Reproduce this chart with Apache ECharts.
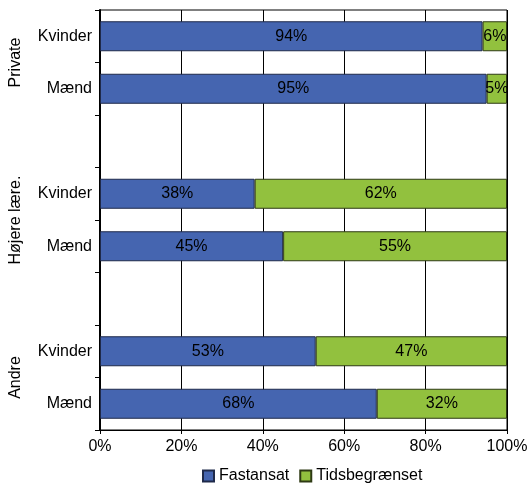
<!DOCTYPE html>
<html>
<head>
<meta charset="utf-8">
<script src="https://cdn.jsdelivr.net/npm/echarts@6/dist/echarts.min.js"></script>
<style>
html,body{margin:0;padding:0;background:#fff;}
#container{width:527px;height:487px;}
</style>
</head>
<body>
<div id="container"></div>
<script>
// rows from bottom to top, '' = gap between groups
var categories = ['Mænd', 'Kvinder', '', 'Mænd', 'Kvinder', '', 'Mænd', 'Kvinder'];
var fastansat = [68, 53, null, 45, 38, null, 95, 94];
var tidsbegraenset = [32, 47, null, 55, 62, null, 5, 6];
var groupNames = {1: 'Andre', 4: 'Højere lære.', 7: 'Private'};
var xTicks = [0, 20, 40, 60, 80, 100];

var chart = echarts.init(document.getElementById('container'));
var font = 'Liberation Sans, Arial, sans-serif';

var option = {
    animation: false,
    textStyle: {fontFamily: font},
    grid: {left: 100, right: 20, top: 10, bottom: 57, containLabel: false, outerBoundsMode: 'none'},
    legend: {
        data: ['Fastansat', 'Tidsbegrænset'],
        top: 463,
        left: 197,
        itemWidth: 11,
        itemHeight: 11,
        itemGap: 10,
        icon: 'rect',
        textStyle: {fontSize: 16, color: '#000', fontFamily: font}
    },
    xAxis: {
        type: 'value',
        min: 0,
        max: 100,
        interval: 20,
        axisLine: {show: true, lineStyle: {color: '#000'}},
        axisTick: {show: true, length: 4, lineStyle: {color: '#000'}},
        axisLabel: {
            fontSize: 16, color: '#000', margin: 9,
            formatter: function (v) { return xTicks.indexOf(v) >= 0 ? v + '%' : ''; }
        },
        splitLine: {show: true, lineStyle: {color: '#000', width: 1}}
    },
    yAxis: [{
        type: 'category',
        data: categories,
        axisLine: {show: true, lineStyle: {color: '#000', width: 2}},
        axisTick: {show: true, length: 5, lineStyle: {color: '#000'}},
        axisLabel: {fontSize: 16, color: '#000', margin: 8},
        splitLine: {show: false}
    }, {
        type: 'value',
        min: 0,
        max: 8,
        interval: 1,
        position: 'left',
        offset: 76,
        axisLine: {show: false},
        axisTick: {show: false},
        splitLine: {show: false},
        axisLabel: {
            fontSize: 16, color: '#000', rotate: 90, margin: 0,
            formatter: function (v) { return groupNames[v] || ''; }
        }
    }],
    series: [{
        name: 'Fastansat',
        type: 'bar',
        stack: 'total',
        barWidth: 30,
        data: fastansat,
        itemStyle: {color: '#4565B0', borderColor: '#1f2a4a', borderWidth: 1},
        label: {show: true, position: 'inside', color: '#000', fontSize: 16, formatter: '{c}%'}
    }, {
        name: 'Tidsbegrænset',
        type: 'bar',
        stack: 'total',
        barWidth: 30,
        data: tidsbegraenset,
        itemStyle: {color: '#92C13E', borderColor: '#2e3a14', borderWidth: 1},
        label: {show: true, position: 'inside', color: '#000', fontSize: 16, formatter: '{c}%'}
    }],
    graphic: [{
        type: 'rect',
        shape: {x: 100, y: 10, width: 407, height: 420},
        style: {fill: 'none', stroke: '#000', lineWidth: 1},
        silent: true,
        z: -1
    }]
};

chart.setOption(option);
</script>
</body>
</html>
